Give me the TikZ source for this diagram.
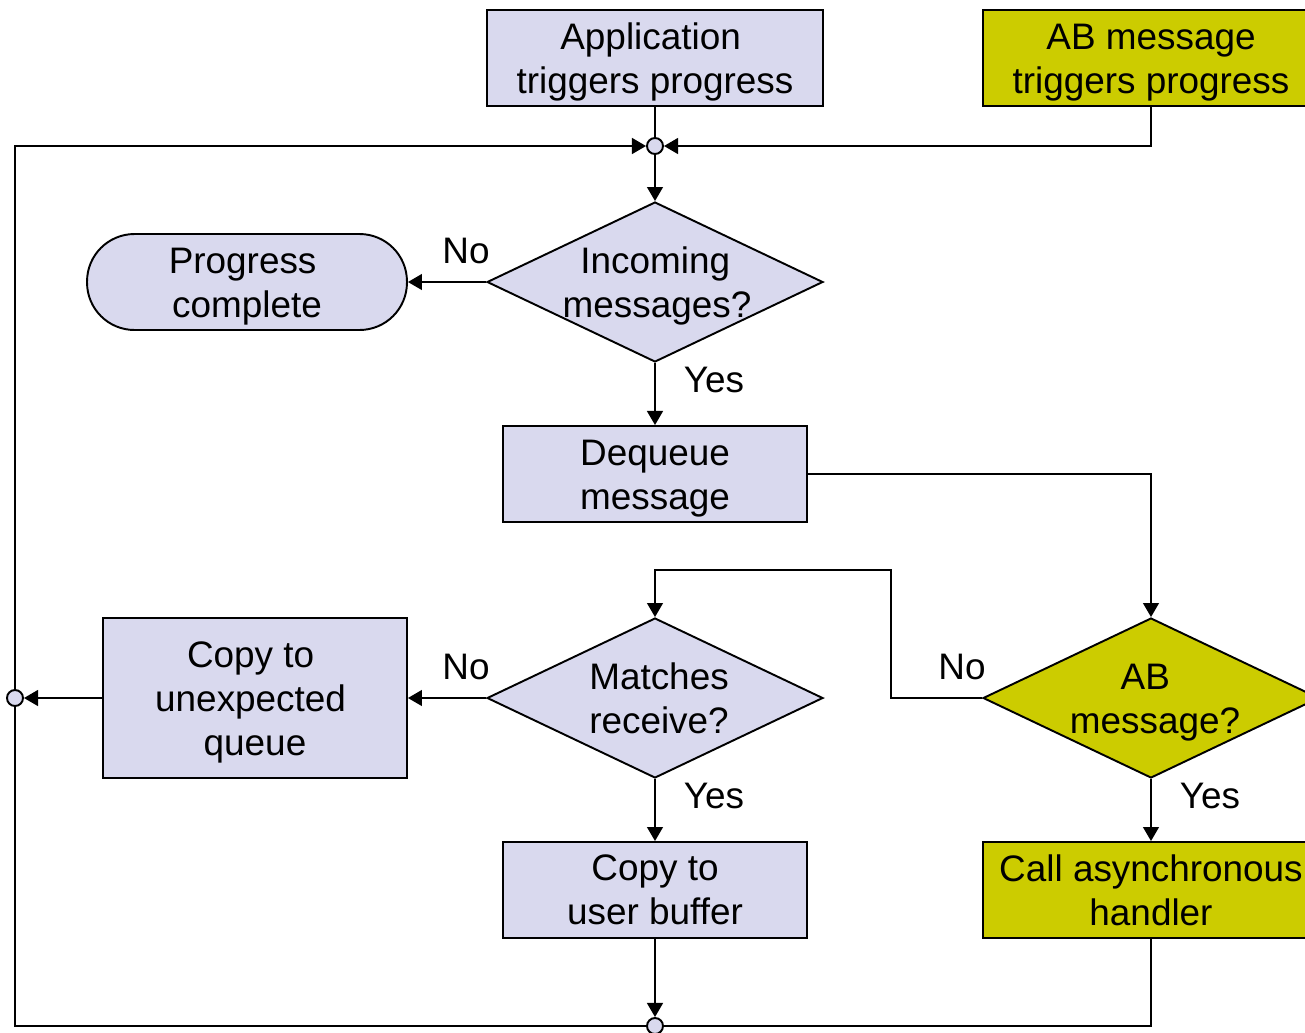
\documentclass[tikz,border=0pt]{standalone}
\usepackage{fontspec}
\setmainfont{Liberation Sans}
\usetikzlibrary{arrows.meta,shapes.geometric}
\definecolor{lav}{HTML}{D9D9EE}
\definecolor{olive}{HTML}{CCCC00}
\newcommand{\padr}[1]{\rule{#1}{0pt}}
\begin{document}
\begin{tikzpicture}[x=0.02cm,y=-0.02cm,
  font=\fontsize{21pt}{25pt}\selectfont,
  line width=1.1pt,
  >={Triangle[length=8pt,width=9pt]},
  proc/.style={draw=black, fill=lav, inner sep=0pt,
    minimum width=6.08cm, minimum height=1.92cm},
  hot/.style={fill=olive},
  wide/.style={minimum width=6.72cm},
  dec/.style={draw=black, fill=lav, diamond, inner sep=0pt,
    minimum width=6.72cm, minimum height=3.2cm},
  term/.style={draw=black, fill=lav, inner sep=0pt,
    rounded corners=27pt, minimum width=6.4cm, minimum height=1.92cm},
  junc/.style={draw=black, fill=lav, circle, inner sep=0pt, minimum size=0.32cm},
  txt/.style={align=center, inner sep=0pt},
  low/.style={txt, yshift=-2.5pt},
  lbl/.style={inner sep=0pt}]
\useasboundingbox (0,0) rectangle (1305,1032);
\clip (0,0) rectangle (1305,1032);

% top triggers
\node[proc, wide] (app) at (655,58) {};
\node[low] (appt) at (app) {Application\padr{5pt}\\triggers progress};
\node[proc, wide, hot] (abt) at (1151,58) {};
\node[low] (abtt) at (abt) {AB message\\triggers progress};
\node[junc] (j1) at (655,146) {};

% incoming messages test
\node[dec] (inc) at (655,282) {};
\node[low] (inct) at (657,282) {Incoming\padr{2pt}\\messages?};
\node[term] (prog) at (247,282) {};
\node[low] (progt) at (prog) {Progress\padr{5pt}\\complete};
\node[proc] (deq) at (655,474) {};
\node[low] (deqt) at (deq) {Dequeue\\message};

% matching and AB test
\node[dec] (mat) at (655,698) {};
\node[txt] (matt) at (659,698) {Matches\\receive?};
\node[dec, fill=olive] (abq) at (1151,698) {};
\node[low] (abqt) at (1155,698) {AB\padr{11pt}\\message?};
\node[proc, minimum height=3.2cm] (unexp) at (255,698) {};
\node[low] (unexpt) at (unexp) {Copy to\padr{5pt}\\unexpected\padr{5pt}\\queue};
\node[junc] (j2) at (15,698) {};
\node[proc] (ubuf) at (655,890) {};
\node[txt] (ubuft) at (ubuf) {Copy to\\user buffer};
\node[proc, wide, hot] (asyn) at (1151,890) {};
\node[txt] (asynt) at (asyn) {Call asynchronous\\handler};
\node[junc] (j3) at (655,1026) {};

% connectors
\draw (app.south) -- (j1.north);
\draw[->] (j2.north) |- (j1.west);
\draw[->] (abt.south) |- (j1.east);
\draw[->] (j1.south) -- (inc.north);
\draw[->] (inc.west) -- (prog.east);
\draw[->] (inc.south) -- (deq.north);
\draw[->] (deq.east) -| (abq.north);
\coordinate (bend) at (891,570);
\draw[->] (abq.west) -| (bend) -| (mat.north);
\draw[->] (abq.south) -- (asyn.north);
\draw[->] (mat.west) -- (unexp.east);
\draw[->] (mat.south) -- (ubuf.north);
\draw[->] (unexp.west) -- (j2.east);
\draw[->] (ubuf.south) -- (j3.north);
\draw (asyn.south) |- (j3.east);
\draw (j3.west) -| (j2.south);

% branch labels
\node[lbl] (n1) at (466,251) {No};
\node[lbl] (y1) at (714,380) {Yes};
\node[lbl] (n2) at (466,667) {No};
\node[lbl] (y2) at (714,796) {Yes};
\node[lbl] (n3) at (962,667) {No};
\node[lbl] (y3) at (1210,796) {Yes};
\end{tikzpicture}
\end{document}
